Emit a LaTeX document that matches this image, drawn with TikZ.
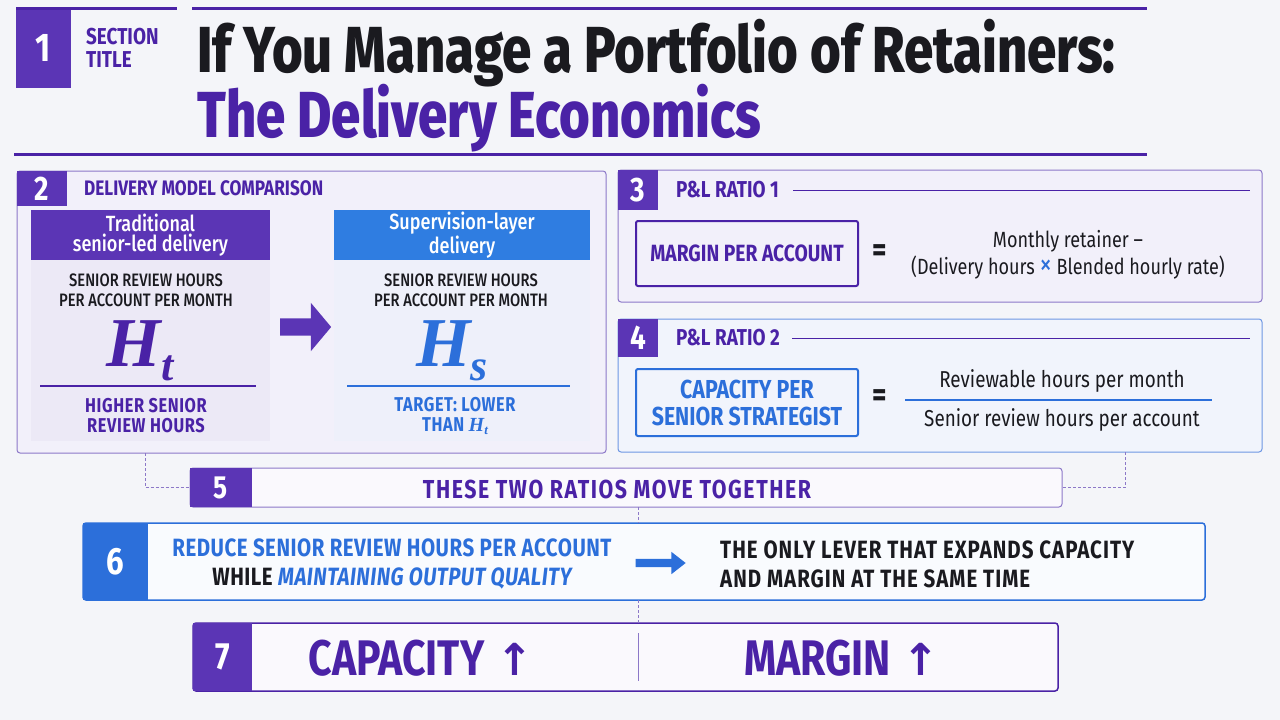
\documentclass[tikz,border=0pt]{standalone}
\usepackage{fontspec}
\usepackage{tikz}
\usetikzlibrary{positioning,shapes.arrows}
\setmainfont{Fira Sans}
\newfontfamily\cnd[FakeStretch=0.82]{Fira Sans}
\newfontfamily\cndm[FakeStretch=0.82]{Fira Sans Medium}
\newfontfamily\ttl[FakeStretch=0.81]{Fira Sans ExtraBold}
\newfontfamily\hfont{Liberation Serif}
\newfontfamily\arrfont{DejaVu Sans}
\newcommand\fsz[2]{\fontsize{#1}{#2}\selectfont}
\newcommand\spaced[1]{\addfontfeature{LetterSpace=#1}}

\definecolor{bgc}{HTML}{F4F5F9}
\definecolor{purp}{HTML}{4A22A6}
\definecolor{badgep}{HTML}{5B35B5}
\definecolor{blu}{HTML}{2C6FDA}
\definecolor{bluhead}{HTML}{2F7DE1}
\definecolor{pfill}{HTML}{F2F0FA}
\definecolor{bfill}{HTML}{F1F4FC}
\definecolor{cardfill}{HTML}{ECE9F6}
\definecolor{cardfillb}{HTML}{EEF0FA}
\definecolor{edgep}{HTML}{8C78C8}
\definecolor{edgeb}{HTML}{6E97E3}
\definecolor{inkc}{HTML}{1A1A1F}

\begin{document}
\begin{tikzpicture}[x=1pt,y=-1pt,
  panel/.style={draw=edgep, fill=pfill, line width=1pt, rounded corners=3pt,
                inner sep=0pt, outer sep=0pt, anchor=north west},
  badge/.style={fill=badgep, text=white, inner sep=0pt, outer sep=0pt,
                anchor=north west, font=\cnd\bfseries\fsz{34}{34}},
  seclabel/.style={text=purp, inner sep=0pt, font=\cnd\bfseries\fsz{21}{21}},
  cardhead/.style={fill=badgep, text=white, inner sep=0pt, outer sep=0pt,
                   anchor=north west, align=center, font=\cndm\fsz{22}{20}},
  cardbody/.style={fill=cardfill, inner sep=0pt, outer sep=0pt, anchor=north west},
  capsblack/.style={text=inkc, align=center, inner sep=0pt, font=\cndm\fsz{18}{20}},
  capscol/.style={align=center, inner sep=0pt, font=\cnd\bfseries\fsz{20}{20}\spaced{3}},
  ratiobox/.style={draw=purp, line width=2pt, rounded corners=2pt, inner sep=0pt,
                   anchor=north west, align=center, font=\cnd\bfseries\fsz{25}{27}},
  eqsign/.style={text=inkc, inner sep=0pt, font=\cnd\bfseries\fsz{34}{34}},
  formula/.style={text=inkc, align=center, inner sep=0pt, font=\cnd\fsz{23}{27}},
  ruleline/.style={line width=1pt},
  conn/.style={draw=edgep, line width=1pt, dash pattern=on 3pt off 2pt},
  blockarrow/.style={single arrow, inner sep=0pt, inner xsep=0pt},
  bigcaps/.style={text=purp, inner sep=0pt, font=\cnd\bfseries\fsz{50}{50}}
]
\useasboundingbox[fill=bgc] (0,0) rectangle (1280,720);

% header
\node[badge, minimum width=55, minimum height=80, font=\cnd\bfseries\fsz{40}{40}] (b1) at (16,8) {1};
\node[seclabel, align=left, anchor=north west, font=\cnd\bfseries\fsz{23}{23}] (st) at (86,28) {SECTION\\TITLE};
\coordinate (t1a) at (16,8);
\coordinate (t1b) at (177,8);
\coordinate (t2a) at (192,8);
\coordinate (t2b) at (1147,8);
\draw[purp, line width=3pt] (t1a) -- (t1b);
\draw[purp, line width=3pt] (t2a) -- (t2b);
\node[anchor=base west, inner sep=0pt, text=inkc, font=\ttl\fsz{65}{65}] (title1) at (197,72) {If You Manage a Portfolio of Retainers:};
\node[anchor=base west, inner sep=0pt, text=purp, font=\ttl\fsz{65}{65}] (title2) at (197,137) {The Delivery Economics};
\coordinate (h1) at (14,154);
\coordinate (h2) at (1147,154);
\draw[purp, line width=3pt] (h1) -- (h2);

% panel 2 : delivery models
\node[panel, minimum width=589, minimum height=282] (p2) at (17,171) {};
\node[badge, minimum width=50, minimum height=35] (b2) at (17,171) {2};
\node[seclabel, right=17pt of b2] (l2) {DELIVERY MODEL COMPARISON};

\node[cardhead, minimum width=239, minimum height=50] (trh) at (31,210) {Traditional\\senior-led delivery};
\node[cardbody, minimum width=239, minimum height=181] (trb) at (31,260) {};
\node[capsblack] (trq) at (146,290) {SENIOR REVIEW HOURS\\PER ACCOUNT PER MONTH};
\node[inner sep=0pt, text=purp, anchor=base] (ht) at (140,366) {\hfont\bfseries\itshape\fsz{70}{70}H\raisebox{-14pt}{\fsz{44}{44}t}};
\coordinate (tl1) at (40,386);
\coordinate (tl2) at (256,386);
\draw[purp, line width=2pt] (tl1) -- (tl2);
\node[capscol, text=purp] (trn) at (146,416) {HIGHER SENIOR\\REVIEW HOURS};

\node[blockarrow, fill=badgep, inner ysep=8.5pt, minimum height=51,
      single arrow head extend=15.5pt, single arrow tip angle=100] (arr2) at (302,327) {};

\node[cardhead, fill=bluhead, minimum width=256, minimum height=50] (svh) at (334,210) {Supervision-layer\\delivery};
\node[cardbody, fill=cardfillb, minimum width=256, minimum height=181] (svb) at (334,260) {};
\node[capsblack] (svq) at (461,290) {SENIOR REVIEW HOURS\\PER ACCOUNT PER MONTH};
\node[inner sep=0pt, text=blu, anchor=base] (hs) at (452,366) {\hfont\bfseries\itshape\fsz{70}{70}H\raisebox{-14pt}{\fsz{44}{44}s}};
\coordinate (sl1) at (347,386);
\coordinate (sl2) at (570,386);
\draw[blu, line width=2pt] (sl1) -- (sl2);
\node[capscol, text=blu] (svn) at (455,416) {TARGET: LOWER\\THAN {\hfont\bfseries\itshape H\raisebox{-3pt}{\fsz{13}{13}t}}};

% panel 3 : ratio 1
\node[panel, minimum width=644, minimum height=132] (p3) at (618,170) {};
\node[badge, minimum width=40, minimum height=40] (b3) at (618,170) {3};
\node[seclabel, font=\cnd\bfseries\fsz{23}{23}, right=18pt of b3] (l3) {P\&L RATIO 1};
\coordinate (r3) at (1250,191);
\draw[ruleline, draw=purp] ([xshift=14pt]l3.east) -- (l3.east -| r3);
\node[ratiobox, text=purp, font=\cnd\bfseries\fsz{23.5}{27}, minimum width=222, minimum height=65] (mpa) at (635,220) {MARGIN PER ACCOUNT};
\node[eqsign] (eq3) at (880,253) {=};
\node[formula, font=\cnd\fsz{22}{27}] (f3) at (1068,255) {Monthly retainer –\\(Delivery hours {\color{blu}\fsz{30}{27}×} Blended hourly rate)};

% panel 4 : ratio 2
\node[panel, draw=edgeb, fill=bfill, minimum width=644, minimum height=133] (p4) at (618,319) {};
\node[badge, minimum width=40, minimum height=38] (b4) at (618,319) {4};
\node[seclabel, font=\cnd\bfseries\fsz{23}{23}, right=18pt of b4] (l4) {P\&L RATIO 2};
\coordinate (r4) at (1250,341);
\draw[ruleline, draw=purp] ([xshift=12pt]l4.east) -- (l4.east -| r4);
\node[ratiobox, draw=blu, text=blu, font=\cnd\bfseries\fsz{26}{27}, minimum width=222, minimum height=67] (cps) at (635,368) {CAPACITY PER\\SENIOR STRATEGIST};
\node[eqsign] (eq4) at (880,398) {=};
\node[formula] (num4) at (1062,381) {Reviewable hours per month};
\node[formula] (den4) at (1062,420) {Senior review hours per account};
\coordinate (fl1) at (905,400);
\coordinate (fl2) at (1212,400);
\draw[blu, line width=2.5pt] (fl1) -- (fl2);

% panel 5
\node[panel, fill=white!60!pfill, minimum width=872, minimum height=39] (p5) at (190,468) {};
\node[badge, minimum width=62, minimum height=39, font=\cnd\bfseries\fsz{32}{32}] (b5) at (190,468) {5};
\node[seclabel, font=\cnd\bfseries\fsz{26}{26}\spaced{6}] (t5) at (617,489) {THESE TWO RATIOS MOVE TOGETHER};
\coordinate (d2) at (145,453);
\coordinate (d4) at (1125,452);
\draw[conn] (d2) |- (p5.west);
\draw[conn] (d4) |- (p5.east);

% panel 6
\coordinate (mid) at (638,0);
\node[panel, draw=blu, fill=white!60!bfill, line width=1.5pt, minimum width=1122, minimum height=77] (p6) at (83,523) {};
\node[badge, fill=blu, minimum width=65, minimum height=77, font=\cnd\bfseries\fsz{38}{38}] (b6) at (83,523) {6};
\node[capscol, text=blu, font=\cnd\bfseries\fsz{25}{29}\spaced{2}] (t6a) at (392,564)
  {REDUCE SENIOR REVIEW HOURS PER ACCOUNT\\{\color{inkc}WHILE} \itshape MAINTAINING OUTPUT QUALITY};
\node[blockarrow, fill=blu, inner ysep=4pt, minimum height=50,
      single arrow head extend=7pt, single arrow tip angle=76] (arr6) at (658,563) {};
\node[capscol, text=inkc, align=left, anchor=west, font=\cnd\bfseries\fsz{25}{29}\spaced{4}] (t6b) at (720,564)
  {THE ONLY LEVER THAT EXPANDS CAPACITY\\AND MARGIN AT THE SAME TIME};
\draw[conn] (p5.south -| mid) -- (p6.north -| mid);

% panel 7
\node[panel, draw=purp, fill=white!60!pfill, line width=1.5pt, minimum width=865, minimum height=68] (p7) at (193,623) {};
\node[badge, minimum width=59, minimum height=68, font=\cnd\bfseries\fsz{38}{38}] (b7) at (193,623) {7};
\draw[conn] (p6.south -| mid) -- (p7.north -| mid);
\node[bigcaps] (cap) at (421,658) {CAPACITY\hspace{12pt}{\arrfont\bfseries\fsz{44}{44}↑}};
\node[bigcaps] (mar) at (842,658) {MARGIN\hspace{12pt}{\arrfont\bfseries\fsz{44}{44}↑}};
\coordinate (s7a) at (638,633);
\coordinate (s7b) at (638,681);
\draw[edgep, line width=1pt] (s7a) -- (s7b);
\end{tikzpicture}
\end{document}
